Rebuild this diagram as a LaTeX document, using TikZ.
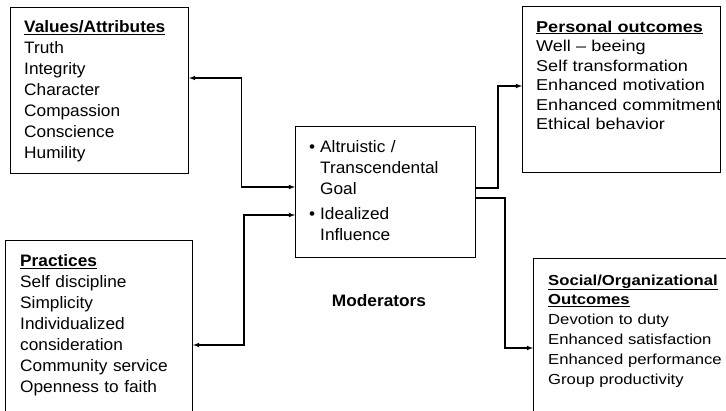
\documentclass[tikz,border=0pt]{standalone}
\usepackage{fontspec}
\setmainfont{Liberation Sans}[FakeStretch=1.04]
\newfontfamily\outfam{Liberation Sans}[FakeStretch=1.15, Ligatures=TeX]
\usepackage{tikz}
\usetikzlibrary{calc,shapes,arrows,positioning}
\newcommand{\boxline}{1.1pt}
\newcommand{\bodyfont}{\fontsize{16.6}{21}\selectfont}
\newcommand{\outfont}{\outfam\fontsize{15.7}{19.5}\selectfont}
\newcommand{\socfont}{\outfam\fontsize{14.5}{19.8}\selectfont}
\newcommand{\ind}{\hspace*{11pt}}
\newcommand{\blt}{\makebox[11pt][l]{\textbullet}}
\tikzstyle{box}=[draw, rectangle, anchor=north west, inner sep=0, line width=\boxline]
\tikzstyle{boxtext}=[anchor=base west, align=left, inner sep=0, font=\bodyfont]
\tikzstyle{arrow}=[->, >=latex, line width=\boxline]
\tikzstyle{dblarrow}=[<->, >=latex, line width=\boxline]

\begin{document}
\begin{tikzpicture}[x=1pt, y=-1pt]
  \useasboundingbox (0,0) rectangle (726,410);
  \clip (0,0) rectangle (726,410);

  \node[box, minimum width=178pt, minimum height=166pt] (values) at (10,7) {};
  \node[box, minimum width=187pt, minimum height=200pt] (practices) at (5,240) {};
  \node[box, minimum width=180pt, minimum height=131pt] (goal) at (295,126) {};
  \node[box, minimum width=198pt, minimum height=166pt] (personal) at (522,6) {};
  \node[box, minimum width=230pt, minimum height=200pt] (social) at (533,258) {};

  \node[boxtext, text width=165pt] (valuestext) at (24,32)
    {\underline{\textbf{Values/Attributes}}\\ Truth\\ Integrity\\ Character\\ Compassion\\ Conscience\\ Humility};
  \node[boxtext, text width=170pt] (practicestext) at (20,266.5)
    {\underline{\textbf{Practices}}\\ Self discipline\\ Simplicity\\ Individualized\\ consideration\\ Community service\\ Openness to faith};
  \node[boxtext, text width=160pt] (goaltext) at (309,152)
    {\blt Altruistic /\\ \ind Transcendental\\ \ind Goal\\[4pt] \blt Idealized\\ \ind Influence};
  \node[boxtext, font=\outfont, text width=200pt] (personaltext) at (536,32)
    {\underline{\textbf{Personal outcomes}}\\ Well \textendash{} beeing\\ Self transformation\\ Enhanced motivation\\ Enhanced commitment\\ Ethical behavior};
  \node[boxtext, font=\socfont, text width=220pt] (socialtext) at (548,285)
    {\underline{\textbf{Social/Organizational}}\\ \underline{\textbf{Outcomes}}\\ Devotion to duty\\ Enhanced satisfaction\\ Enhanced performance\\ Group productivity};

  \node[anchor=base, inner sep=0, font=\bodyfont\bfseries] (moderators) at (379,306) {Moderators};

  \coordinate (va) at (241.5,78);
  \coordinate (vb) at (241.5,187);
  \coordinate (pa) at (244,215);
  \coordinate (pb) at (244,345);
  \coordinate (oa) at (498,188);
  \coordinate (ob) at (498,86);
  \coordinate (sa) at (505,198);
  \coordinate (sb) at (505,348);

  \draw[dblarrow] (values.east |- va) -- (va) -- (vb) -- (goal.west |- vb);
  \draw[dblarrow] (practices.east |- pb) -- (pb) -- (pa) -- (goal.west |- pa);

  \draw[arrow] (goal.east |- oa) -- (oa) -- (ob) -- (personal.west |- ob);
  \draw[arrow] (goal.east |- sa) -- (sa) -- (sb) -- (social.west |- sb);

\end{tikzpicture}
\end{document}
